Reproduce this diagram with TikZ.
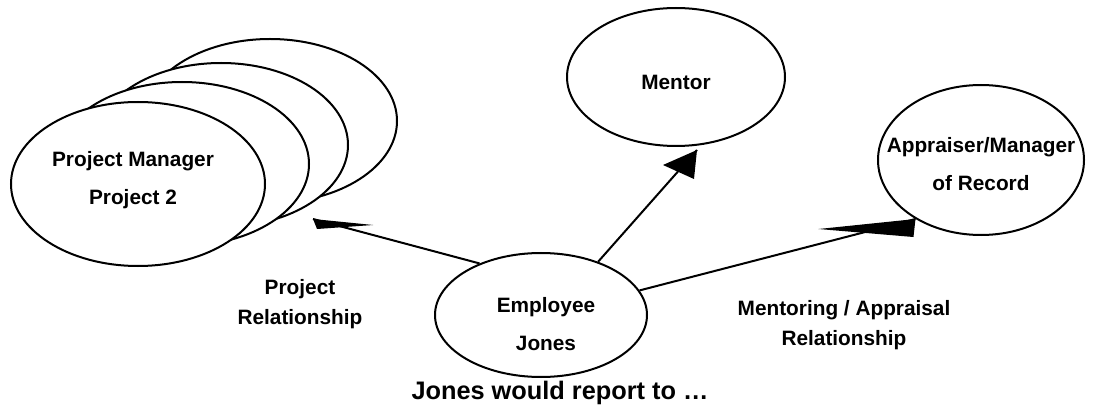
\documentclass[tikz,border=0pt]{standalone}
\usepackage{fontspec}
\setmainfont{Liberation Sans}
\usetikzlibrary{shapes.geometric,calc}
\begin{document}
\begin{tikzpicture}[x=0.75pt,y=-0.75pt,
  oval/.style={draw,ellipse,line width=1.5pt,fill=white,inner sep=0pt},
  lbl/.style={font=\fontsize{15.6}{28.5}\selectfont\bfseries,align=center,inner sep=0pt},
  rel/.style={font=\fontsize{15.6}{22.5}\selectfont\bfseries,align=center,inner sep=0pt},
  conn/.style={line width=1.5pt},
  head/.style={fill=black}]
\useasboundingbox (0,0) rectangle (1107,406);
% stacked project manager ellipses
\node[oval,minimum width=254*0.75pt,minimum height=164*0.75pt] (pm4) at (270,121) {};
\node[oval,minimum width=254*0.75pt,minimum height=164*0.75pt] (pm3) at (221,145) {};
\node[oval,minimum width=254*0.75pt,minimum height=164*0.75pt] (pm2) at (182,164) {};
\node[oval,minimum width=254*0.75pt,minimum height=164*0.75pt] (pm1) at (138,184) {};
\node[lbl] (pmtext) at (133,180) {Project Manager\\Project 2};
% mentor
\node[oval,minimum width=218*0.75pt,minimum height=138*0.75pt] (mentor) at (676,77) {};
\node[lbl] (mentortext) at (676,82) {Mentor};
% appraiser
\node[oval,minimum width=206*0.75pt,minimum height=150*0.75pt] (appr) at (981,160) {};
\node[lbl] (apprtext) at (981,164) {Appraiser/Manager\\of Record};
% employee
\node[oval,minimum width=212*0.75pt,minimum height=124*0.75pt] (emp) at (541,315) {};
\node[lbl] (emptext) at (546,324) {Employee\\Jones};
% relationship labels
\node[rel] (projrel) at (300,304) {Project\\Relationship};
\node[rel] (mentrel) at (844,325) {Mentoring / Appraisal\\Relationship};
\node[font=\fontsize{19}{23}\selectfont\bfseries,inner sep=0pt] (caption) at (560,393) {Jones would report to …};
% connectors
\coordinate (ptip) at (313,219);
\coordinate (mtip) at (697,150);
\coordinate (atip) at (appr.222);
\draw[conn] (emp.140) -- (ptip);
\draw[conn] (emp.43) -- (mtip);
\draw[conn] (emp.14) -- (atip);
\fill[head] (ptip) -- ($(ptip)+(4,10)$) -- ($(ptip)+(60,6)$) -- cycle;
\fill[head] (mtip) -- ($(mtip)+(-34,15)$) -- ($(mtip)+(-3,29)$) -- cycle;
\fill[head] (atip) -- ($(atip)+(-97,10)$) -- ($(atip)+(-2,18)$) -- cycle;
\end{tikzpicture}
\end{document}
